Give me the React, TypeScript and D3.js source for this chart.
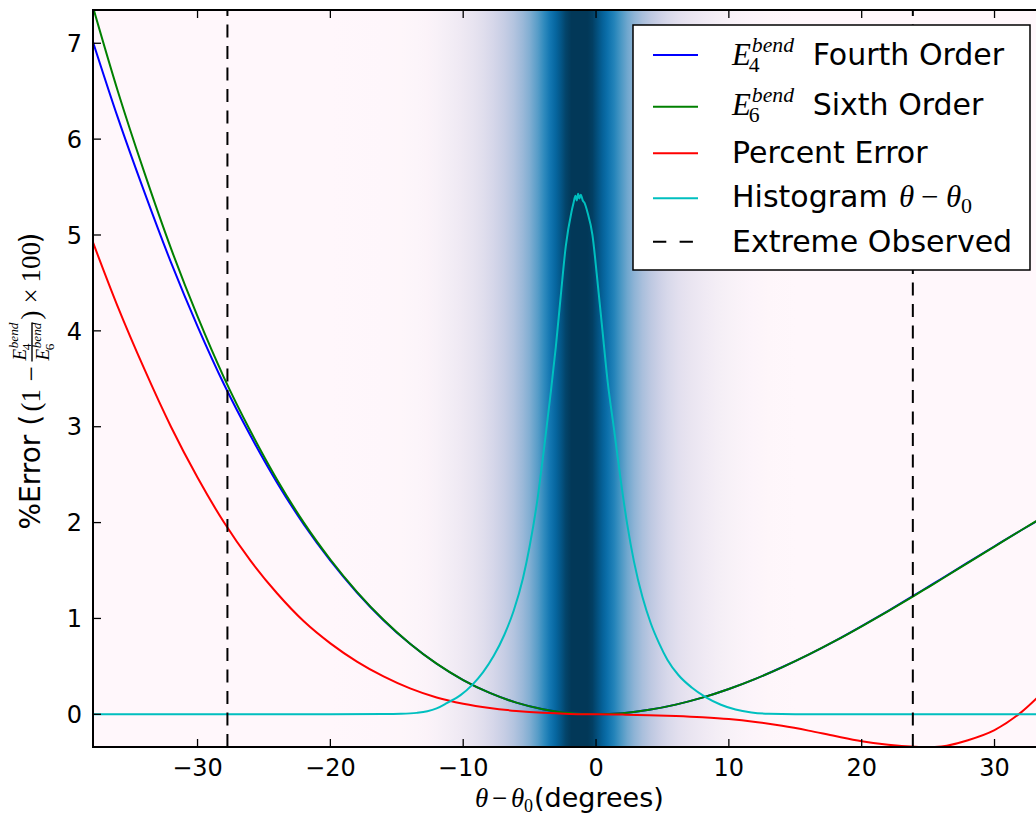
import React from "react";
import * as d3 from "d3";

// Bending-energy comparison: fourth vs sixth order expansions, their percent
// error, and the observed angle histogram (also shown as a density band).

const W = 1036;
const H = 816;
const PLOT = { left: 93, top: 10, right: 1045, bottom: 747 };
const X_DOMAIN: [number, number] = [-37.87, 33.8];
const Y_DOMAIN: [number, number] = [-0.341, 7.347];

const xTicks = [-30, -20, -10, 0, 10, 20, 30];
const yTicks = [0, 1, 2, 3, 4, 5, 6, 7];

// angle grid (degrees) for the energy / error curves
const theta = [
  -38, -36, -34, -32, -30, -28, -26, -24, -22, -20, -18, -16, -14, -12, -10, -8, -6, -4, -2, 0,
  2, 4, 6, 8, 10, 12, 14, 16, 18, 20, 22, 24, 25, 26, 28, 30, 32, 34,
];
const sixthOrder = [
  7.44, 6.5, 5.65, 4.86, 4.15, 3.51, 2.95, 2.445, 2.0, 1.615, 1.278, 0.986, 0.737, 0.528, 0.357,
  0.223, 0.122, 0.053, 0.0128, 0, 0.012, 0.0465, 0.101, 0.174, 0.264, 0.37, 0.49, 0.622, 0.765,
  0.918, 1.077, 1.241, 1.325, 1.409, 1.58, 1.75, 1.92, 2.087,
];
const fourthOrder = [
  7.07, 6.224, 5.447, 4.714, 4.047, 3.44, 2.903, 2.414, 1.981, 1.603, 1.271, 0.982, 0.735, 0.527,
  0.357, 0.223, 0.122, 0.053, 0.0128, 0, 0.012, 0.0465, 0.101, 0.174, 0.264, 0.37, 0.491, 0.623,
  0.767, 0.921, 1.08, 1.245, 1.33, 1.414, 1.584, 1.753, 1.92, 2.081,
];
const percentError = [
  4.97, 4.25, 3.6, 3.0, 2.47, 2.0, 1.6, 1.26, 0.97, 0.74, 0.55, 0.395, 0.27, 0.175, 0.11, 0.065,
  0.035, 0.015, 0.004, 0, -0.003, -0.009, -0.018, -0.031, -0.05, -0.08, -0.12, -0.17, -0.227,
  -0.28, -0.318, -0.339, -0.343, -0.335, -0.27, -0.165, 0.02, 0.28,
];

// histogram of theta - theta0
const histTheta = [
  -38, -20, -16, -14.7, -13.5, -12.7, -12, -11.2, -10.2, -9.3, -8.5, -7.7, -6.9, -6.2, -5.5, -5.0,
  -4.4, -3.9, -3.45, -3.03, -2.66, -2.28, -1.85, -1.7, -1.55, -1.45, -1.35, -1.25, -1.15, -1.0,
  -0.85, -0.65, -0.27, 0.1, 0.48, 0.86, 1.36, 1.86, 2.36, 2.86, 3.5, 4.12, 4.75, 5.37, 6.2, 7.2,
  8.25, 9.4, 10.5, 11.7, 13, 15, 34,
];
const histValue = [
  0, 0, 0.002, 0.005, 0.015, 0.032, 0.062, 0.12, 0.2, 0.31, 0.44, 0.61, 0.83, 1.08, 1.42, 1.75,
  2.25, 2.79, 3.31, 3.83, 4.36, 4.88, 5.24, 5.33, 5.41, 5.36, 5.43, 5.38, 5.42, 5.36, 5.33, 5.24,
  5.0, 4.53, 4.01, 3.49, 2.97, 2.44, 1.97, 1.59, 1.22, 0.95, 0.74, 0.57, 0.41, 0.28, 0.18, 0.1,
  0.05, 0.02, 0.006, 0.001, 0,
];

const extremeObserved = [-27.75, 23.85];

const SANS = "'DejaVu Sans', sans-serif";
const MATH = "'Liberation Serif', 'DejaVu Serif', serif";

// E with a "bend" superscript and an order subscript, set as one text run
function Ebend({ x, y, size, sub }: { x: number; y: number; size: number; sub: string }) {
  const wE = size * 0.62;
  const small = size * 0.7;
  const up = size * 0.42;
  const down = size * 0.24;
  return (
    <text x={x} y={y} fontFamily={MATH} fontSize={size}>
      <tspan fontStyle="italic">E</tspan>
      <tspan x={x + wE + size * 0.02} y={y - up} fontStyle="italic" fontSize={small}>bend</tspan>
      <tspan x={x + wE - size * 0.08} y={y + down} fontSize={small}>{sub}</tspan>
    </text>
  );
}

export default function App() {
  const x = d3.scaleLinear().domain(X_DOMAIN).range([PLOT.left, PLOT.right]);
  const y = d3.scaleLinear().domain(Y_DOMAIN).range([PLOT.bottom, PLOT.top]);

  const mkLine = (xs: number[], ys: number[]) =>
    d3
      .line<number>()
      .x((_, i) => x(xs[i]))
      .y((d) => y(d))
      .curve(d3.curveMonotoneX)(ys) as string;

  const vmax = 5.2;
  const colorOf = (h: number) => d3.interpolatePuBu(Math.pow(Math.min(1, h / vmax), 0.7));
  const plotW = PLOT.right - PLOT.left;

  const series = [
    { ys: fourthOrder, color: "#0000ff" },
    { ys: sixthOrder, color: "#008000" },
    { ys: percentError, color: "#ff0000" },
  ];

  const legendRows = [
    { y: 55, color: "#0000ff" },
    { y: 106.7, color: "#008000" },
    { y: 153.3, color: "#ff0000" },
    { y: 198.3, color: "#00bfbf" },
    { y: 241.7, color: "#000000", dashed: true },
  ];

  return (
    <svg
      width={W}
      height={H}
      viewBox={`0 0 ${W} ${H}`}
      style={{ position: "absolute", left: 0, top: 0, background: "#fff" }}
    >
      <defs>
        <clipPath id="plot-clip">
          <rect x={PLOT.left} y={PLOT.top} width={plotW} height={PLOT.bottom - PLOT.top} />
        </clipPath>
        <linearGradient id="density" x1="0" x2="1" y1="0" y2="0">
          {histTheta.map((t, i) => (
            <stop
              key={i}
              offset={Math.max(0, Math.min(1, (x(t) - PLOT.left) / plotW))}
              stopColor={colorOf(histValue[i])}
            />
          ))}
        </linearGradient>
      </defs>

      {/* density band */}
      <rect x={PLOT.left} y={PLOT.top} width={plotW} height={PLOT.bottom - PLOT.top} fill="url(#density)" />

      <g clipPath="url(#plot-clip)" fill="none" strokeWidth={2}>
        {series.map((s, i) => (
          <path key={i} d={mkLine(theta, s.ys)} stroke={s.color} />
        ))}
        <path d={mkLine(histTheta, histValue)} stroke="#00bfbf" strokeLinejoin="round" />
        {extremeObserved.map((v, i) => (
          <line
            key={i}
            x1={x(v)}
            x2={x(v)}
            y1={PLOT.bottom}
            y2={PLOT.top}
            stroke="#000"
            strokeDasharray="13,8.5"
          />
        ))}
      </g>

      {/* ticks */}
      <g stroke="#000" strokeWidth={1.3}>
        {xTicks.map((t) => (
          <g key={t}>
            <line x1={x(t)} x2={x(t)} y1={PLOT.bottom} y2={PLOT.bottom - 8} />
            <line x1={x(t)} x2={x(t)} y1={PLOT.top} y2={PLOT.top + 8} />
          </g>
        ))}
        {yTicks.map((t) => (
          <line key={t} x1={PLOT.left} x2={PLOT.left + 8} y1={y(t)} y2={y(t)} />
        ))}
      </g>

      {/* spines */}
      <rect
        x={PLOT.left}
        y={PLOT.top}
        width={plotW}
        height={PLOT.bottom - PLOT.top}
        fill="none"
        stroke="#000"
        strokeWidth={2}
      />

      {/* tick labels */}
      <g fontFamily={SANS} fontSize={24} fill="#000">
        {xTicks.map((t) => (
          <text key={t} x={x(t)} y={776} textAnchor="middle">
            {t < 0 ? `\u2212${Math.abs(t)}` : `${t}`}
          </text>
        ))}
        {yTicks.map((t) => (
          <text key={t} x={82} y={y(t) + 8.7} textAnchor="end">
            {t}
          </text>
        ))}
      </g>

      {/* x axis label */}
      <text x={475} y={807} fill="#000" fontFamily={MATH} fontSize={27}>
        <tspan fontStyle="italic">θ</tspan>
        <tspan x={492}>−</tspan>
        <tspan x={511} fontStyle="italic">θ</tspan>
        <tspan x={524} y={812} fontSize={18}>0</tspan>
        <tspan x={534} y={807} fontFamily={SANS}>(degrees)</tspan>
      </text>

      {/* y axis label */}
      <g transform="translate(40,529.5) rotate(-90)" fill="#000">
        <text x={0} y={0} fontFamily={SANS} fontSize={28}>%Error (</text>
        <text x={118} y={0} fontFamily={MATH} fontSize={27}>(1</text>
        <text x={148} y={0} fontFamily={MATH} fontSize={27}>−</text>
        <Ebend x={169} y={-14} size={19} sub="4" />
        <line x1={168} x2={207} y1={-8} y2={-8} stroke="#000" strokeWidth={1.4} />
        <Ebend x={169} y={9} size={19} sub="6" />
        <text x={210} y={0} fontFamily={MATH} fontSize={27}>)</text>
        <text x={226} y={0} fontFamily={MATH} fontSize={27}>×</text>
        <text x={247} y={0} fontFamily={MATH} fontSize={27}>100</text>
        <text x={286} y={0} fontFamily={SANS} fontSize={28}>)</text>
      </g>

      {/* legend */}
      <g>
        <rect x={633} y={25} width={397} height={245} fill="#fff" stroke="#000" strokeWidth={1.5} />
        {legendRows.map((r, i) => (
          <line
            key={i}
            x1={653}
            x2={698}
            y1={r.y}
            y2={r.y}
            stroke={r.color}
            strokeWidth={2}
            strokeDasharray={r.dashed ? "13.3,13.3" : undefined}
          />
        ))}
        <Ebend x={732} y={65} size={31} sub="4" />
        <text x={812.7} y={65} fontFamily={SANS} fontSize={30}>Fourth Order</text>
        <Ebend x={732} y={115} size={31} sub="6" />
        <text x={812.7} y={115} fontFamily={SANS} fontSize={30}>Sixth Order</text>
        <text x={732} y={162.7} fontFamily={SANS} fontSize={30}>Percent Error</text>
        <text x={732} y={207} fontFamily={SANS} fontSize={30}>
          Histogram
          <tspan x={899} fontFamily={MATH} fontStyle="italic" fontSize={31}>θ</tspan>
          <tspan x={921} fontFamily={MATH} fontSize={31}>−</tspan>
          <tspan x={946} fontFamily={MATH} fontStyle="italic" fontSize={31}>θ</tspan>
          <tspan x={961} y={213} fontFamily={MATH} fontSize={22}>0</tspan>
        </text>
        <text x={732} y={251.7} fontFamily={SANS} fontSize={30}>Extreme Observed</text>
      </g>
    </svg>
  );
}
